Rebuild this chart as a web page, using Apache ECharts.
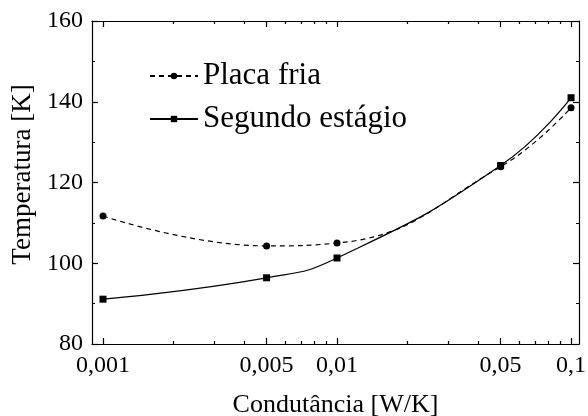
<!DOCTYPE html>
<html>
<head>
<meta charset="utf-8">
<script src="https://cdn.jsdelivr.net/npm/echarts@6/dist/echarts.min.js"></script>
<style>
  html, body { margin: 0; padding: 0; background: #fff; }
  #chart { width: 588px; height: 416px; }
</style>
</head>
<body>
<div id="chart"></div>
<script>
'use strict';
// dados
const conductance = [0.001, 0.005, 0.01, 0.05, 0.1];
const placaFria = [111.7, 104.3, 105.0, 123.9, 138.5];
const segundoEstagio = [91.1, 96.4, 101.3, 124.2, 141.0];
const xTickValues = [0.001, 0.005, 0.01, 0.05, 0.1];
const xTickLabels = ['0,001', '0,005', '0,01', '0,05', '0,1'];
const xMinorValues = [0.002, 0.003, 0.004, 0.006, 0.007, 0.008, 0.009,
  0.02, 0.03, 0.04, 0.06, 0.07, 0.08, 0.09];
const yMin = 80, yMax = 160, yStep = 20;

// eixo x em escala logarítmica (log10)
const lg = v => Math.log10(v);
const xMin = -3.047, xMax = -0.966;
const serif = 'Liberation Serif, Times New Roman, serif';

function xLabel(v) {
  for (let i = 0; i < xTickValues.length; i++) {
    if (Math.abs(lg(xTickValues[i]) - v) < 1e-6) return xTickLabels[i];
  }
  return '';
}

function xAxisDef(pos, ticks, len, labels, line) {
  return {
    type: 'value', position: pos, min: xMin, max: xMax,
    axisLine: { show: line, onZero: false, lineStyle: { color: '#000', width: 1.2 } },
    axisTick: { show: true, inside: true, length: len, customValues: ticks.map(lg),
      lineStyle: { color: '#000', width: 1.2 } },
    axisLabel: labels ? { show: true, customValues: ticks.map(lg), formatter: xLabel,
      fontFamily: serif, fontSize: 24, color: '#000', margin: 10 } : { show: false },
    splitLine: { show: false },
    name: labels ? 'Condutância [W/K]' : '',
    nameLocation: 'middle', nameGap: 48,
    nameTextStyle: { fontFamily: serif, fontSize: 26, color: '#000' }
  };
}

const chart = echarts.init(document.getElementById('chart'));
chart.setOption({
  animation: false,
  backgroundColor: '#fff',
  grid: { left: 92, right: 9, top: 21, bottom: 72, outerBoundsMode: 'none', containLabel: false },
  legend: {
    orient: 'vertical', left: 144, top: 55, itemGap: 11,
    itemWidth: 48, itemHeight: 8,
    textStyle: { fontFamily: serif, fontSize: 31, color: '#000', lineHeight: 32 },
    data: ['Placa fria', 'Segundo estágio']
  },
  xAxis: [
    xAxisDef('bottom', xTickValues, 6, true, true),
    xAxisDef('bottom', xMinorValues, 3, false, false),
    xAxisDef('top', xTickValues, 6, false, true),
    xAxisDef('top', xMinorValues, 3, false, false)
  ],
  yAxis: [
    {
      type: 'value', position: 'left', min: yMin, max: yMax, interval: yStep,
      axisLine: { show: true, lineStyle: { color: '#000', width: 1.2 } },
      axisTick: { inside: true, length: 6, lineStyle: { color: '#000', width: 1.2 } },
      minorTick: { show: true, splitNumber: 2, length: 3, lineStyle: { color: '#000', width: 1 } },
      axisLabel: { fontFamily: serif, fontSize: 24, color: '#000', margin: 9 },
      splitLine: { show: false },
      name: 'Temperatura [K]', nameLocation: 'middle', nameGap: 51,
      nameTextStyle: { fontFamily: serif, fontSize: 27, color: '#000', padding: [0, 0, 0, 16] }
    },
    {
      type: 'value', position: 'right', min: yMin, max: yMax, interval: yStep,
      axisLine: { show: true, lineStyle: { color: '#000', width: 1.2 } },
      axisTick: { inside: true, length: 6, lineStyle: { color: '#000', width: 1.2 } },
      minorTick: { show: true, splitNumber: 2, length: 3, lineStyle: { color: '#000', width: 1 } },
      axisLabel: { show: false },
      splitLine: { show: false }
    }
  ],
  series: [
    {
      name: 'Placa fria', type: 'line', smooth: 0.45,
      symbol: 'circle', symbolSize: 7,
      itemStyle: { color: '#000' },
      lineStyle: { color: '#000', width: 1.2, type: [5, 4] },
      data: conductance.map((c, i) => [lg(c), placaFria[i]])
    },
    {
      name: 'Segundo estágio', type: 'line', smooth: 0.5,
      symbol: 'rect', symbolSize: 7,
      itemStyle: { color: '#000' },
      lineStyle: { color: '#000', width: 1.2 },
      data: conductance.map((c, i) => [lg(c), segundoEstagio[i]])
    }
  ]
});
</script>
</body>
</html>
